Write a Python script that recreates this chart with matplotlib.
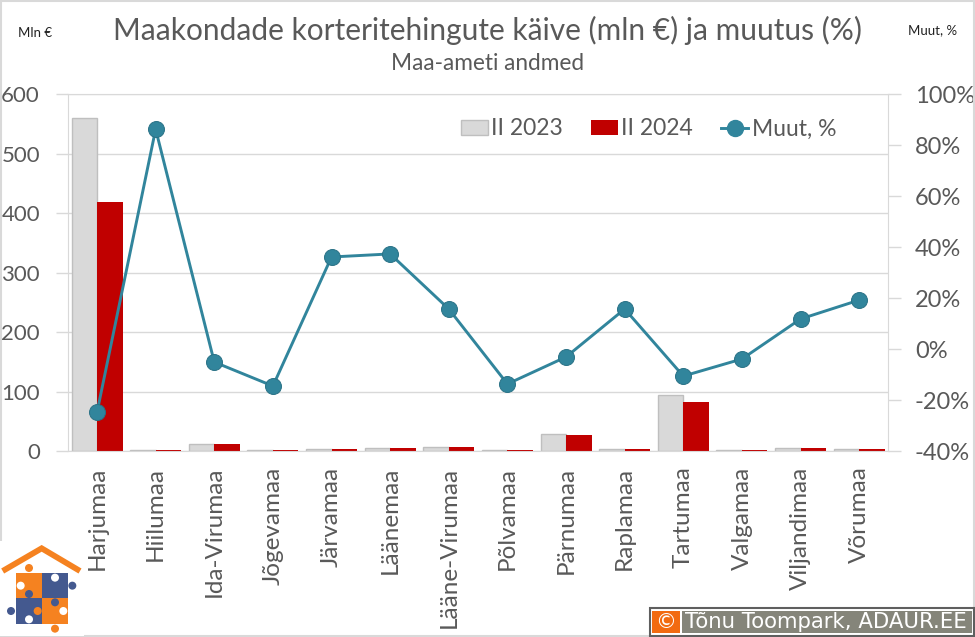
import numpy as np
import matplotlib
matplotlib.use('Agg')
import matplotlib.pyplot as plt
from matplotlib.patches import Rectangle, Circle
from matplotlib.lines import Line2D

plt.rcParams['font.family'] = ['Lato', 'DejaVu Sans']

counties = ['Harjumaa', 'Hiilumaa', 'Ida-Virumaa', 'Jõgevamaa', 'Järvamaa', 'Läänemaa',
            'Lääne-Virumaa', 'Põlvamaa', 'Pärnumaa', 'Raplamaa', 'Tartumaa', 'Valgamaa',
            'Viljandimaa', 'Võrumaa']
q2_2023 = [561, 1.5, 13, 2, 3.5, 5, 7, 1.5, 28.5, 3.5, 94, 1.5, 5, 3.5]
q2_2024 = [419, 2.5, 12, 1.7, 4, 5, 7, 1.5, 27, 4, 83, 1.5, 5.5, 4]
change_pct = [-24.7, 86.3, -5, -14.4, 36.2, 37.4, 15.8, -13.6, -3, 15.8, -10.5, -3.8, 11.9, 19.3]
left_ticks = [0, 100, 200, 300, 400, 500, 600]
right_ticks = [-40, -20, 0, 20, 40, 60, 80, 100]

TXT = '#595959'
GRID = '#d9d9d9'
TEAL = '#31859c'
W, H = 975, 637

fig = plt.figure(figsize=(W / 100, H / 100), dpi=100)

# plot area in pixels
x0, x1, y_top, y_bot = 67.7, 888.5, 94.3, 451.3
ax = fig.add_axes([x0 / W, 1 - y_bot / H, (x1 - x0) / W, (y_bot - y_top) / H])
x = np.arange(len(counties))
bw = 0.435
ax.bar(x - bw / 2, q2_2023, bw, color='#d9d9d9', edgecolor='#bfbfbf', linewidth=1, label='II 2023')
ax.bar(x + bw / 2, q2_2024, bw, color='#c00000', label='II 2024')
ax.set_xlim(-0.5, len(counties) - 0.5)
ax.set_ylim(0, 600)
ax.set_yticks(left_ticks)
ax.grid(axis='y', color=GRID, linewidth=1)
ax.set_axisbelow(True)
ax.set_xticks(x)
ax.set_xticklabels(counties, rotation=90, fontsize=17.5, color=TXT)
ax.tick_params(axis='x', length=0, pad=11)
ax.tick_params(axis='y', length=9, width=1, color=GRID, labelsize=16, labelcolor=TXT, pad=11)
ax.spines['top'].set_color(GRID)
for s in ['left', 'right', 'bottom']:
    ax.spines[s].set_color(GRID)

ax2 = ax.twinx()
ax2.plot(x, change_pct, color=TEAL, linewidth=2.1, marker='o', markersize=11.5,
         markerfacecolor=TEAL, markeredgecolor='#2a7286', markeredgewidth=0.7, label='Muut, %')
ax2.set_ylim(-40, 100)
ax2.set_yticks(right_ticks)
ax2.set_yticklabels([f'{v}%' for v in right_ticks])
ax2.tick_params(axis='y', length=9, width=1, color=GRID, labelsize=17, labelcolor=TXT, pad=10)
for s in ['top', 'left', 'bottom', 'right']:
    ax2.spines[s].set_visible(False)

handles = [Rectangle((0, 0), 1, 1, fc='#d9d9d9', ec='#bfbfbf'),
           Rectangle((0, 0), 1, 1, fc='#c00000'),
           Line2D([], [], color=TEAL, linewidth=2.1, marker='o', markersize=11.5)]
ax2.legend(handles, ['II 2023', 'II 2024', 'Muut, %'], ncol=3, frameon=False, fontsize=16.5,
           labelcolor=TXT, loc='center', bbox_to_anchor=((648.5 - x0) / (x1 - x0), 1 - (129 - y_top) / (y_bot - y_top)),
           handlelength=1.18, handleheight=0.66, handletextpad=0.15, columnspacing=1.22, borderpad=0)

fig.text(487.5 / W, 1 - 30 / H, 'Maakondade korteritehingute käive (mln €) ja muutus (%)',
         fontsize=21.55, color=TXT, ha='center', va='center')
fig.text(488 / W, 1 - 64 / H, 'Maa-ameti andmed', fontsize=16.3, color=TXT, ha='center', va='center')
fig.text(35.5 / W, 1 - 33 / H, 'Mln €', fontsize=9.5, color='#222222', ha='center', va='center')
fig.text(933 / W, 1 - 30 / H, 'Muut, %', fontsize=9.5, color='#222222', ha='center', va='center')

# overlay in pixel coordinates for frame, logo and copyright badge
ov = fig.add_axes([0, 0, 1, 1], zorder=10)
ov.set_xlim(0, W)
ov.set_ylim(H, 0)
ov.axis('off')
ov.patch.set_alpha(0)
ov.add_patch(Rectangle((0.5, 0.5), W - 1.5, H - 1.5, fc='none', ec=GRID, linewidth=1.5))
ov.add_patch(Rectangle((0, 541), 84, 95, fc='white', ec='none'))

ORANGE = '#f58220'
BLUE = '#44598f'
def zx(v):
    return v / 3
def zy(v):
    return 530 + v / 3
ov.plot([zx(8), zx(125), zx(240)], [zy(123), zy(55), zy(123)], color=ORANGE, linewidth=4.2,
        solid_joinstyle='miter', solid_capstyle='butt')
for (a, b, c, d, col) in [(48, 128, 125, 205, ORANGE), (125, 128, 205, 205, BLUE),
                          (48, 205, 125, 283, BLUE), (125, 205, 205, 283, ORANGE)]:
    ov.add_patch(Rectangle((zx(a), zy(b)), (c - a) / 3, (d - b) / 3, fc=col, ec='none'))
for (a, b, col) in [(87, 114, ORANGE), (62, 167, 'white'), (165, 143, 'white'), (217, 167, BLUE),
                    (113, 167, ORANGE), (87, 192, BLUE), (33, 243, BLUE), (87, 268, 'white'),
                    (113, 243, ORANGE), (165, 217, BLUE), (190, 243, 'white'), (165, 296, ORANGE)]:
    ov.add_patch(Circle((zx(a), zy(b)), 4, fc=col, ec='none'))

ov.add_patch(Rectangle((649.5, 607.5), 324, 28.5, fc='white', ec='#5f5f5f', linewidth=1.5))
ov.add_patch(Rectangle((652, 611), 28, 22, fc='#f26a10', ec='none'))
ov.add_patch(Rectangle((682, 611), 290, 22, fc='#85857a', ec='none'))
ov.text(666, 622, '©', color='white', fontsize=15, ha='center', va='center', family='DejaVu Sans')
ov.text(685, 622, 'Tõnu Toompark, ADAUR.EE', color='white', fontsize=15.3, ha='left', va='center',
        family='DejaVu Sans')

plt.savefig('out.png', dpi=100)
